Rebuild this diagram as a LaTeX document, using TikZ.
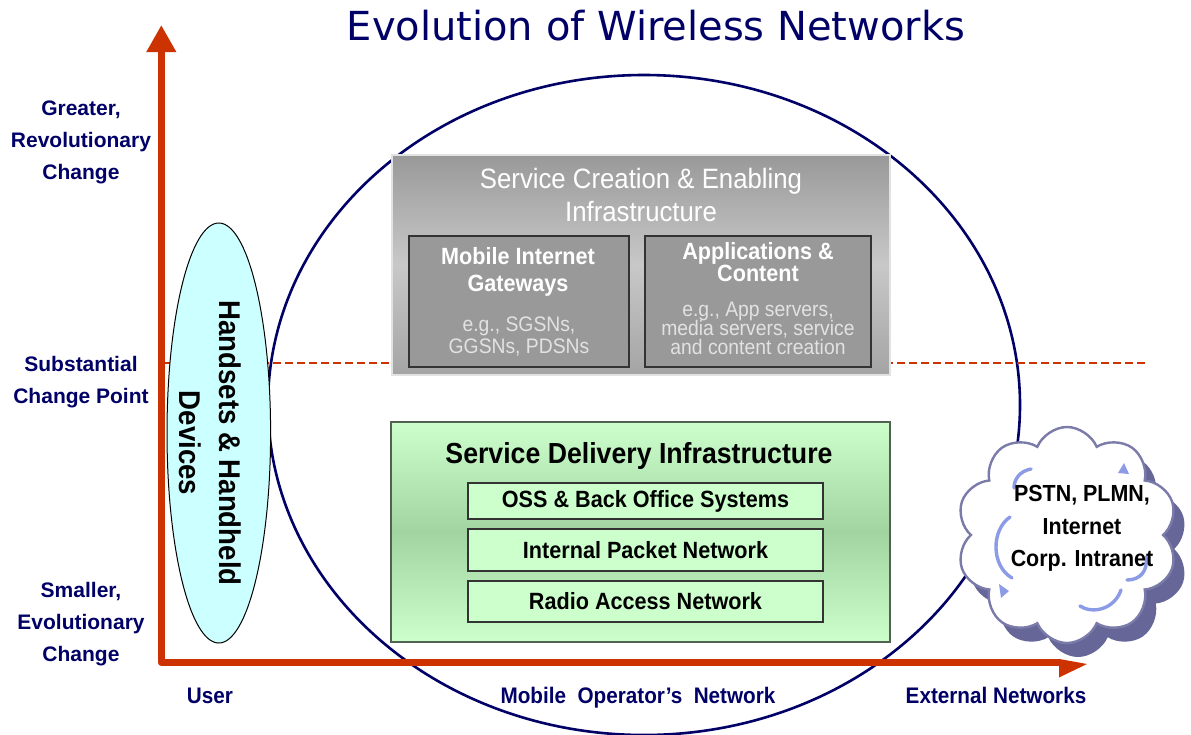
\documentclass[tikz,border=0pt]{standalone}
\usepackage{fontspec}
\setmainfont{Liberation Sans}
\newfontfamily\narrowfont[FakeStretch=0.92]{Liberation Sans}
\newfontfamily\titlefont{DejaVu Sans}
\usetikzlibrary{shapes.geometric,shapes.symbols,arrows.meta}

\newcommand\tightlines{\lineskiplimit=-20pt\relax}

\definecolor{navy}{HTML}{000066}
\definecolor{axisred}{HTML}{CC3300}
\definecolor{greyTop}{HTML}{999999}
\definecolor{greyMid}{HTML}{C8C8C8}
\definecolor{greyBot}{HTML}{A4A4A4}
\definecolor{greyInner}{HTML}{999999}
\definecolor{greyText}{HTML}{E2E2E2}
\definecolor{greenLight}{HTML}{CCFFCC}
\definecolor{greenMid}{HTML}{A2D4A2}
\definecolor{greenEdge}{HTML}{526252}
\definecolor{handset}{HTML}{CCFFFF}
\definecolor{cloudShadow}{HTML}{666699}
\definecolor{cloudLine}{HTML}{7B7BAA}
\definecolor{cloudArc}{HTML}{8C9BE6}

\tikzset{
  sidelabel/.style={font=\bfseries\fontsize{21}{32}\selectfont, text=navy, align=center},
  axislabel/.style={font=\narrowfont\bfseries\fontsize{22.5}{27}\selectfont, text=navy, anchor=base},
  axisline/.style={draw=axisred, line width=7.2pt, line join=round},
  levelline/.style={draw=axisred, line width=2.4pt, dash pattern=on 7.5pt off 4.5pt},
  greybox/.style={rectangle, top color=greyTop, bottom color=greyBot, middle color=greyMid,
                  draw=greyText, line width=1.2pt},
  innergrey/.style={rectangle, fill=greyInner, draw=black!80, line width=1.4pt},
  greenbox/.style={rectangle, top color=greenLight, bottom color=greenLight, middle color=greenMid,
                   draw=greenEdge, line width=1.8pt},
  layerbox/.style={rectangle, fill=greenLight, draw=black!80, line width=1.2pt,
                   minimum width=355pt, font=\narrowfont\bfseries\fontsize{23.5}{26}\selectfont},
  whitehead/.style={font=\narrowfont\bfseries\fontsize{23.5}{27}\selectfont\tightlines,
                    text=white, align=center},
  greynote/.style={font=\narrowfont\fontsize{21}{22}\selectfont\tightlines,
                   text=greyText, align=center},
  cloudpuff/.style={cloud, cloud puffs=10, cloud puff arc=135, aspect=1.02,
                    minimum width=221pt, minimum height=216pt},
  cloudarc/.style={draw=cloudArc, line width=3.4pt, line cap=round},
}

\begin{document}
\begin{tikzpicture}[x=1pt, y=-1pt, every node/.style={inner sep=0pt, outer sep=0pt}]
\useasboundingbox (0,0) rectangle (1191,734);

% heading
\node[font=\titlefont\fontsize{40}{44}\selectfont, text=navy, anchor=base] (title)
  at (656,40) {Evolution of Wireless Networks};

% the operator's network
\node[ellipse, draw=navy, line width=2.6pt, minimum width=752pt, minimum height=660pt] (opnet)
  at (644,405) {};

% substantial change level
\coordinate (levelL) at (165,363);
\coordinate (levelR) at (1148,363);
\draw[levelline] (levelL) -- (levelR);

% service creation layer
\node[greybox, minimum width=498pt, minimum height=220pt] (creation) at (641,265) {};
\node[font=\narrowfont\fontsize{28}{33}\selectfont, text=white, align=center] (creationT)
  at (641,194.5) {Service Creation \& Enabling\\Infrastructure};
\node[innergrey, minimum width=220pt, minimum height=131pt] (mig) at (519,301.5) {};
\node[innergrey, minimum width=226pt, minimum height=131pt] (app) at (758,301.5) {};
\node[whitehead] (migT) at (518,272.4) {Mobile Internet\\Gateways};
\node[greynote] (migE) at (519,337) {e.g., SGSNs,\\GGSNs, PDSNs};
\node[whitehead, font=\narrowfont\bfseries\fontsize{23.5}{22}\selectfont\tightlines] (appT)
  at (758,262.4) {Applications \&\\Content};
\node[greynote, font=\narrowfont\fontsize{21}{19}\selectfont\tightlines] (appE)
  at (758,328) {e.g., App servers,\\media servers, service\\and content creation};

% service delivery layer
\node[greenbox, minimum width=499pt, minimum height=220pt] (delivery) at (640.5,532) {};
\node[font=\narrowfont\bfseries\fontsize{29}{32}\selectfont, anchor=base] (deliveryT)
  at (639,463) {Service Delivery Infrastructure};
\node[layerbox, minimum height=36pt] (oss) at (645.5,501) {OSS \& Back Office Systems};
\node[layerbox, minimum height=42pt] (ipn) at (645.5,550) {Internal Packet Network};
\node[layerbox, minimum height=41pt] (ran) at (645.5,601.5) {Radio Access Network};

% user devices
\node[ellipse, draw=black, line width=1pt, fill=handset, minimum width=103.6pt, minimum height=420pt]
  (devices) at (218.8,433) {};
\node[font=\narrowfont\bfseries\fontsize{30}{40}\selectfont, align=center, rotate=-90] (devicesT)
  at (210.5,443) {Handsets \& Handheld\\Devices};

% axes
\coordinate (origin) at (161.3,662.5);
\coordinate (ytip) at (161.3,25);
\coordinate (xend) at (1060,662.5);
\draw[axisline, {Triangle[width=28pt,length=27pt]}-] (ytip) -- (origin) -- (xend);
\fill[axisred] (1059,658.9) -- (1087,664) -- (1059,677.5) -- cycle;

% external networks cloud with its drop shadow
\node[cloudpuff, fill=cloudShadow] (extShadow) at (1078,549) {};
\node[cloudpuff, fill=white, draw=cloudLine, line width=2.4pt] (ext) at (1067,535) {};
\draw[cloudarc] (1031,469) .. controls (1020,471) and (1014,479) .. (1014,488);
\draw[cloudarc] (1010,517) .. controls (991,530) and (991,566) .. (1012,578);
\draw[cloudarc] (1080,606) .. controls (1092,614) and (1114,610) .. (1121,590);
\draw[cloudarc] (1127,580) .. controls (1141,580) and (1148,570) .. (1146,557);
\fill[cloudArc] (1118,473) -- (1124,463) -- (1129,474) -- cycle;
\fill[cloudArc] (999,584) -- (1009,591) -- (1001,598) -- cycle;
\node[font=\narrowfont\bfseries\fontsize{23.3}{32.5}\selectfont, align=center] (extT)
  at (1082,528.5) {PSTN, PLMN,\\Internet\\Corp. Intranet};

% scale of change
\node[sidelabel] (greater) at (81,142.6) {Greater,\\Revolutionary\\Change};
\node[sidelabel] (substantial) at (81,382.5) {Substantial\\Change Point};
\node[sidelabel] (smaller) at (81,624.5) {Smaller,\\Evolutionary\\Change};

% domains along the horizontal axis
\node[axislabel] (user) at (210,703) {User};
\node[axislabel] (operator) at (638,703) {Mobile\ \ Operator’s\ \ Network};
\node[axislabel] (external) at (996,703) {External Networks};
\end{tikzpicture}
\end{document}
